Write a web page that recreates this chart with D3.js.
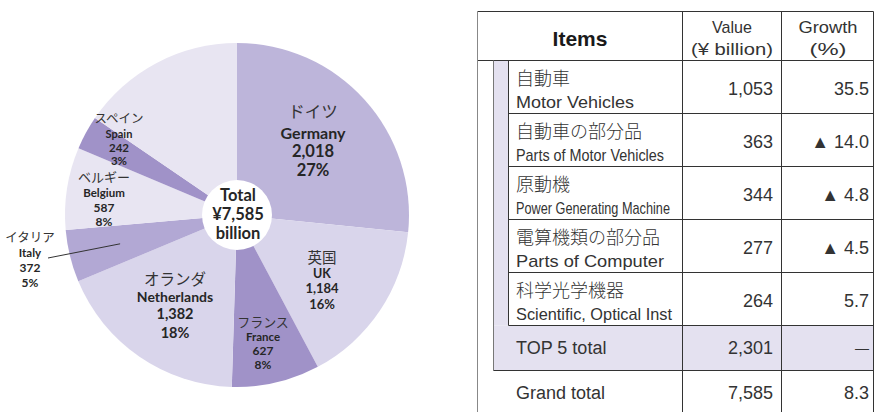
<!DOCTYPE html>
<html>
<head>
<meta charset="utf-8">
<script src="https://cdn.jsdelivr.net/npm/d3@7"></script>
<style>
  body { margin: 0; background: #fff; }
  svg { display: block; }
  .jp { font-family: "Noto Sans CJK JP", sans-serif; }
  .lat { font-family: Lato, "Noto Sans", sans-serif; font-weight: bold; }
  .tb { font-family: "Liberation Sans", Arial, sans-serif; }
</style>
</head>
<body>
<div id="chart"></div>
<script>
// pie data (¥ billion)
const countriesJa = ["ドイツ", "英国", "フランス", "オランダ", "イタリア", "ベルギー", "スペイン", ""];
const countriesEn = ["Germany", "UK", "France", "Netherlands", "Italy", "Belgium", "Spain", "Others"];
const countryValues = [2018, 1184, 627, 1382, 372, 587, 242, 1173];
const countryShares = ["27%", "16%", "8%", "18%", "5%", "8%", "3%", ""];
const totalValue = 7585;

// table data
const itemsJa = ["自動車", "自動車の部分品", "原動機", "電算機類の部分品", "科学光学機器"];
const itemsEn = ["Motor Vehicles", "Parts of Motor Vehicles", "Power Generating Machine", "Parts of Computer", "Scientific, Optical Inst"];
const itemValues = [1053, 363, 344, 277, 264];
const itemGrowth = [35.5, -14.0, -4.8, -4.5, 5.7];
const top5Total = 2301;
const grandGrowth = 8.3;

const width = 874, height = 412;
const svg = d3.select("#chart").append("svg")
  .attr("width", width).attr("height", height);

// ---------- pie ----------
const cx = 237, cy = 215, radius = 172, hole = 35;
const colors = ["#bdb5da", "#d9d5eb", "#a092c8", "#d9d5eb", "#b2a8d4", "#e8e5f2", "#a092c8", "#e8e5f2"];

const pie = d3.pie().sort(null).value(d => d);
const arc = d3.arc().innerRadius(0).outerRadius(radius);
const slices = pie(countryValues);

const g = svg.append("g").attr("transform", `translate(${cx},${cy})`);
g.selectAll("path")
  .data(slices)
  .enter().append("path")
  .attr("d", arc)
  .attr("fill", (d, i) => colors[i]);

g.append("circle").attr("r", hole).attr("fill", "#fff");

// label blocks: x, y of first line, jp size, latin size, line gaps
const labelLayout = {
  Germany:     { x: 313, y: 111, jp: 16.5, la: 16, gap: [21, 19, 19] },
  UK:          { x: 322, y: 256, jp: 14.5, la: 12.5, gap: [17, 15, 16] },
  France:      { x: 263, y: 321, jp: 13, la: 11.5, gap: [15, 14, 14] },
  Netherlands: { x: 175, y: 278, jp: 15.5, la: 14, gap: [18, 17, 19] },
  Italy:       { x: 30,  y: 236, jp: 12.5, la: 11.5, gap: [16, 15, 15] },
  Belgium:     { x: 104, y: 176, jp: 13, la: 11.5, gap: [16, 15, 14] },
  Spain:       { x: 119, y: 117, jp: 12.5, la: 11, gap: [16, 14, 13] }
};

countriesEn.forEach((name, i) => {
  const L = labelLayout[name];
  if (!L) return;
  const t = svg.append("g").attr("text-anchor", "middle");
  let y = L.y;
  t.append("text").attr("class", "jp").attr("x", L.x).attr("y", y)
    .attr("dominant-baseline", "central").attr("font-size", L.jp).attr("fill", "#333")
    .text(countriesJa[i]);
  const lines = [name, d3.format(",")(countryValues[i]), countryShares[i]];
  lines.forEach((s, k) => {
    y += L.gap[k];
    t.append("text").attr("class", "lat").attr("x", L.x).attr("y", y)
      .attr("dominant-baseline", "central").attr("font-size", k === 0 ? L.la : L.la + 0.5)
      .attr("fill", "#262626").text(s);
  });
});

// Italy leader line, from label to slice
const italyArc = slices[countriesEn.indexOf("Italy")];
const lp = d3.arc().innerRadius(radius * 0.7).outerRadius(radius * 0.7).centroid(italyArc);
svg.append("line")
  .attr("x1", 48).attr("y1", 258)
  .attr("x2", cx + lp[0]).attr("y2", cy + lp[1])
  .attr("stroke", "#333").attr("stroke-width", 1);

// centre total
const ct = svg.append("g").attr("class", "lat").attr("text-anchor", "middle").attr("fill", "#262626");
["Total", "¥" + d3.format(",")(totalValue), "billion"].forEach((s, k) => {
  ct.append("text").attr("x", cx + 1).attr("y", 195 + k * 19)
    .attr("dominant-baseline", "central").attr("font-size", 16.5).text(s);
});

// ---------- table ----------
const xOuter = 477.5, xBand = 493.5, xItem = 508.5, xVal = 682.5, xGro = 781.5, xRight = 873.5;
const yTop = 11.5, yHead = 60.5, rowH = 53, yTop5 = 325.5, yTop5End = 370.5;
const purple = "#e4e1f0";
const tb = svg.append("g").attr("class", "tb");

const rowY = d3.range(itemsJa.length + 1).map(i => yHead + i * rowH);

// fills
tb.append("rect").attr("x", xBand).attr("y", yHead).attr("width", xItem - xBand).attr("height", yTop5 - yHead).attr("fill", purple);
tb.append("rect").attr("x", xBand).attr("y", yTop5).attr("width", xRight - xBand).attr("height", yTop5End - yTop5).attr("fill", purple);

const line = (x1, y1, x2, y2, c) => tb.append("line")
  .attr("x1", x1).attr("y1", y1).attr("x2", x2).attr("y2", y2)
  .attr("stroke", c || "#333").attr("stroke-width", 1);

line(xOuter, yTop, xRight, yTop);
line(xOuter, yHead, xRight, yHead);
line(xOuter, yTop, xOuter, height, "#888");
line(xBand, yHead, xBand, yTop5End, "#777");
line(xItem, yHead, xItem, yTop5);
line(xVal, yTop, xVal, height);
line(xGro, yTop, xGro, height);
line(xRight, yTop, xRight, height);
rowY.slice(1).forEach(y => line(xItem, y, xRight, y));
line(xBand, yTop5End, xRight, yTop5End);

const txt = (x, y, s, size, anchor, opts) => {
  const t = tb.append("text").attr("x", x).attr("y", y).attr("font-size", size)
    .attr("text-anchor", anchor || "start").attr("dominant-baseline", "central")
    .attr("fill", "#333").text(s);
  if (opts && opts.len) t.attr("textLength", opts.len).attr("lengthAdjust", "spacingAndGlyphs");
  if (opts && opts.cls) t.attr("class", opts.cls);
  if (opts && opts.bold) t.attr("font-weight", "bold").attr("fill", "#1a1a1a");
  return t;
};

// header
txt(580, 38, "Items", 21, "middle", { bold: true });
txt(732, 27, "Value", 17, "middle", { len: 40 });
txt(732, 49, "(¥ billion)", 17, "middle", { len: 82 });
txt(828, 27, "Growth", 17, "middle", { len: 59 });
txt(828, 49, "(%)", 17, "middle", { len: 37 });

const enLen = [118, 148, 154, 148, 156];
const fmtGrowth = v => v < 0 ? "▲ " + d3.format(".1f")(-v) : d3.format(".1f")(v);
itemsJa.forEach((s, i) => {
  const y0 = rowY[i];
  txt(516, y0 + 16, s, 18, "start", { cls: "jp" }).attr("font-weight", 300);
  txt(516, y0 + 42, itemsEn[i], 17, "start", { len: enLen[i] });
  txt(773, y0 + 28, d3.format(",")(itemValues[i]), 18, "end");
  txt(869, y0 + 28, fmtGrowth(itemGrowth[i]), 18, "end");
});

txt(516, 348, "TOP 5 total", 18);
txt(773, 348, d3.format(",")(top5Total), 18, "end");
txt(869, 348, "—", 14, "end");

txt(516, 393, "Grand total", 18);
txt(773, 393, d3.format(",")(totalValue), 18, "end");
txt(869, 393, d3.format(".1f")(grandGrowth), 18, "end");
</script>
</body>
</html>
